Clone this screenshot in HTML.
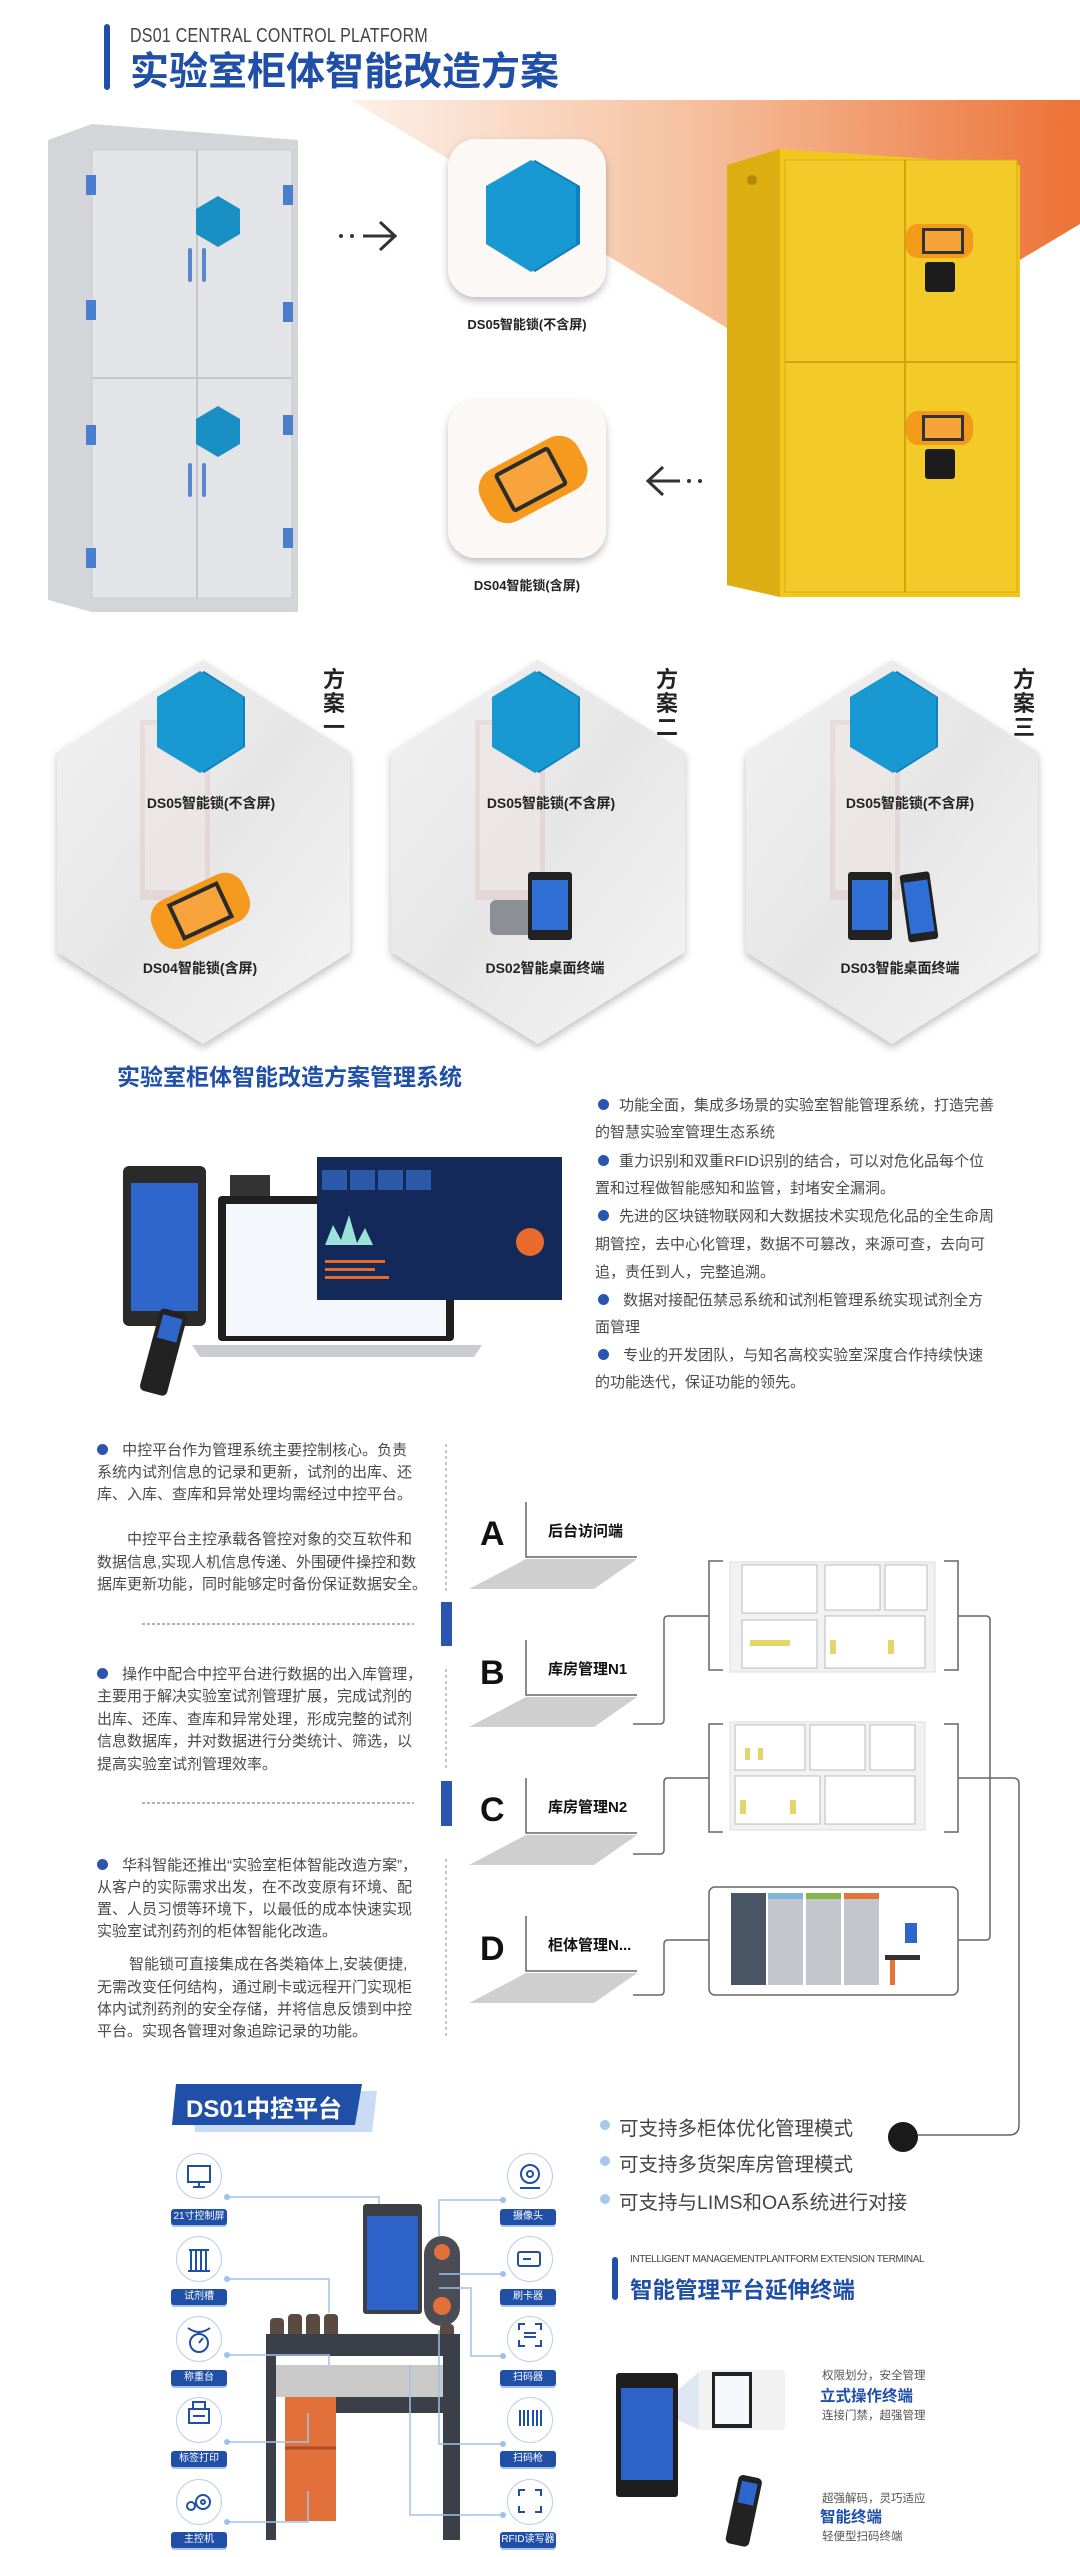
<!DOCTYPE html>
<html><head><meta charset="utf-8">
<style>
*{margin:0;padding:0;box-sizing:border-box}
body{width:1080px;height:2557px;background:#fff;position:relative;overflow:hidden;font-family:"Liberation Sans","Noto Sans CJK SC",sans-serif;color:#444}
.a{position:absolute;white-space:nowrap}
.t{position:absolute;white-space:nowrap;font-size:15px;line-height:22px;color:#4a4a4a}
.r{position:absolute;white-space:nowrap;font-size:15px;line-height:22px;color:#4a4a4a}
.dot{display:inline-block;width:11px;height:11px;border-radius:50%;background:#2a55b0;margin-right:10px;vertical-align:0}
.lbl{position:absolute;font-size:14px;font-weight:bold;color:#222;white-space:nowrap;transform:translateX(-50%)}
.pill{position:absolute;width:56px;height:16px;background:#1f4fa6;border-radius:3px;color:#fff;font-size:10px;line-height:16px;text-align:center;box-shadow:0 2px 0 #a8c4e8;white-space:nowrap}
.circ{position:absolute;width:46px;height:46px;border-radius:50%;border:1px solid #b9cfee;background:#fff}
</style></head><body>

<svg width="1080" height="2557" style="position:absolute;left:0;top:0">
<defs>
<linearGradient id="og" x1="0" y1="0" x2="1" y2="0"><stop offset="0" stop-color="#fdf0e8"/><stop offset="0.45" stop-color="#f6c3a2"/><stop offset="1" stop-color="#ec7236"/></linearGradient>
<linearGradient id="hx" x1="0" y1="0" x2="1" y2="1"><stop offset="0" stop-color="#f2f2f2"/><stop offset="0.5" stop-color="#e6e6e6"/><stop offset="1" stop-color="#f5f5f5"/></linearGradient>
<filter id="sh" x="-20%" y="-20%" width="140%" height="140%"><feDropShadow dx="0" dy="4" stdDeviation="4" flood-color="#000" flood-opacity="0.25"/></filter>
</defs>
<rect x="104" y="24" width="6" height="66" rx="3" fill="#1f4fa6"/>
<polygon points="351,100 1080,100 1080,224 816,382" fill="url(#og)"/>
<polygon points="48,140 92,124 298,140 298,612 92,612 48,600" fill="#d3d5d9"/>
<rect x="92" y="150" width="200" height="448" fill="#e3e4e7" stroke="#c9cbcf"/>
<line x1="197" y1="150" x2="197" y2="598" stroke="#c4c6ca" stroke-width="2"/>
<line x1="92" y1="378" x2="292" y2="378" stroke="#c4c6ca" stroke-width="2"/>
<g fill="#4a7fd0"><rect x="86" y="175" width="10" height="20"/><rect x="86" y="300" width="10" height="20"/><rect x="86" y="425" width="10" height="20"/><rect x="86" y="548" width="10" height="20"/><rect x="283" y="185" width="10" height="20"/><rect x="283" y="302" width="10" height="20"/><rect x="283" y="415" width="10" height="20"/><rect x="283" y="528" width="10" height="20"/></g>
<polygon points="218,196 240,209 240,234 218,247 196,234 196,209" fill="#1a8fc4"/>
<polygon points="218,406 240,419 240,444 218,457 196,444 196,419" fill="#1a8fc4"/>
<g fill="none" stroke="#5a86d0" stroke-width="4" stroke-linecap="round"><path d="M190,250 v30"/><path d="M204,250 v30"/><path d="M190,465 v30"/><path d="M204,465 v30"/></g>
<g fill="#333"><circle cx="341" cy="236" r="2"/><circle cx="352" cy="236" r="2"/></g>
<path d="M363,236 h32 M380,222 l15,14 l-15,14" stroke="#333" stroke-width="3" fill="none"/>
<g fill="#333"><circle cx="700" cy="481" r="2"/><circle cx="689" cy="481" r="2"/></g>
<path d="M680,481 h-32 M663,467 l-15,14 l15,14" stroke="#333" stroke-width="3" fill="none"/>
<rect x="448" y="139" width="158" height="158" rx="28" fill="#fbf8f6" filter="url(#sh)"/>
<polygon points="535,160 580,186 580,244 535,272 490,244 490,186" fill="#0f7fc0"/>
<polygon points="531,160 576,186 576,244 531,272 486,244 486,186" fill="#1899d2"/>
<rect x="448" y="400" width="158" height="158" rx="28" fill="#fbf8f6" filter="url(#sh)"/>
<g transform="rotate(-28 530 480)"><rect x="478" y="452" width="110" height="58" rx="22" fill="#f59a1e"/><rect x="500" y="458" width="62" height="44" rx="4" fill="#2c2c2c"/><rect x="504" y="462" width="54" height="36" fill="#f7a43c"/></g>
<polygon points="727,165 780,149 1020,165 1020,597 780,597 727,585" fill="#f1c71e"/>
<polygon points="727,165 780,149 780,597 727,585" fill="#dcae12"/>
<rect x="785" y="160" width="232" height="432" fill="#f3cb28" stroke="#d9ad10"/>
<line x1="905" y1="160" x2="905" y2="592" stroke="#d1a40c" stroke-width="2"/>
<line x1="785" y1="362" x2="1017" y2="362" stroke="#d1a40c" stroke-width="2"/>
<circle cx="752" cy="180" r="5" fill="#b28a0a"/>
<rect x="906" y="224" width="67" height="34" rx="12" fill="#f39a1a"/><rect x="922" y="228" width="42" height="26" fill="#333"/><rect x="925" y="231" width="36" height="20" fill="#f5a43a"/>
<rect x="925" y="262" width="30" height="30" rx="3" fill="#1c1c1c"/>
<rect x="906" y="411" width="67" height="34" rx="12" fill="#f39a1a"/><rect x="922" y="415" width="42" height="26" fill="#333"/><rect x="925" y="418" width="36" height="20" fill="#f5a43a"/>
<rect x="925" y="449" width="30" height="30" rx="3" fill="#1c1c1c"/>

<g filter="url(#sh)">
<polygon points="203,660 350,752 350,952 203,1044 57,952 57,752" fill="url(#hx)"/>
<polygon points="538,660 685,752 685,952 538,1044 391,952 391,752" fill="url(#hx)"/>
<polygon points="892,660 1038,752 1038,952 892,1044 746,952 746,752" fill="url(#hx)"/>
</g>
<g opacity="0.12"><rect x="140" y="720" width="70" height="180" fill="#d06060"/><rect x="475" y="720" width="70" height="180" fill="#d06060"/><rect x="830" y="720" width="70" height="180" fill="#d06060"/></g>
<g opacity="0.5"><rect x="145" y="725" width="60" height="165" fill="#f4f4f4"/><rect x="480" y="725" width="60" height="165" fill="#f4f4f4"/><rect x="835" y="725" width="60" height="165" fill="#f4f4f4"/></g>
<g>
<polygon points="204,671 245,697 245,747 204,773 163,747 163,697" fill="#0f7fc0"/>
<polygon points="200,671 243,697 243,747 200,773 157,747 157,697" fill="#1899d2"/>
<polygon points="539,671 580,697 580,747 539,773 498,747 498,697" fill="#0f7fc0"/>
<polygon points="535,671 578,697 578,747 535,773 492,747 492,697" fill="#1899d2"/>
<polygon points="897,671 938,697 938,747 897,773 856,747 856,697" fill="#0f7fc0"/>
<polygon points="893,671 936,697 936,747 893,773 850,747 850,697" fill="#1899d2"/>
</g>
<g transform="rotate(-25 200 910)"><rect x="150" y="885" width="100" height="52" rx="20" fill="#f59a1e"/><rect x="172" y="891" width="56" height="40" fill="#2a2a2a"/><rect x="176" y="895" width="48" height="32" fill="#f7a43c"/></g>
<rect x="490" y="900" width="45" height="35" rx="6" fill="#8c8f96"/><rect x="528" y="872" width="44" height="68" rx="3" fill="#222"/><rect x="532" y="880" width="36" height="50" fill="#2f6fd6"/>
<rect x="848" y="872" width="44" height="68" rx="3" fill="#222"/><rect x="852" y="880" width="36" height="50" fill="#2f6fd6"/>
<g transform="rotate(-8 918 907)"><rect x="904" y="873" width="30" height="68" rx="3" fill="#222"/><rect x="907" y="881" width="24" height="52" fill="#2f6fd6"/></g>

<rect x="123" y="1166" width="83" height="160" rx="6" fill="#2a2a2a"/><rect x="131" y="1183" width="67" height="128" fill="#2f66cc"/>
<rect x="230" y="1175" width="40" height="25" fill="#333"/>
<rect x="218" y="1196" width="236" height="145" rx="4" fill="#1f1f1f"/><rect x="226" y="1204" width="220" height="132" fill="#f4f7fb"/>
<path d="M192,1345 h290 l-8,12 h-274 z" fill="#c9ccd1"/>
<rect x="317" y="1157" width="245" height="143" fill="#13295a"/>
<g fill="#2a5aa8"><rect x="322" y="1170" width="25" height="20"/><rect x="350" y="1170" width="25" height="20"/><rect x="378" y="1170" width="25" height="20"/><rect x="406" y="1170" width="25" height="20"/></g>
<g fill="#e86a2c"><rect x="325" y="1260" width="60" height="3"/><rect x="325" y="1268" width="50" height="3"/><rect x="325" y="1276" width="64" height="3"/></g>
<path d="M325,1245 l8,-20 l8,15 l8,-25 l8,28 l8,-15 l8,17 z" fill="#9de2d8"/>
<circle cx="530" cy="1242" r="14" fill="#e86a2c"/>
<g transform="rotate(15 165 1350)"><rect x="150" y="1310" width="28" height="85" rx="5" fill="#222"/><rect x="154" y="1316" width="20" height="24" fill="#2f66cc"/></g>

<line x1="446" y1="1444" x2="446" y2="1591" stroke="#888" stroke-dasharray="3,3"/>
<line x1="446" y1="1669" x2="446" y2="1769" stroke="#888" stroke-dasharray="3,3"/>
<line x1="446" y1="1859" x2="446" y2="2038" stroke="#888" stroke-dasharray="3,3"/>
<line x1="142" y1="1624" x2="414" y2="1624" stroke="#666" stroke-dasharray="3,2"/>
<line x1="142" y1="1803" x2="414" y2="1803" stroke="#666" stroke-dasharray="3,2"/>
<rect x="441" y="1602" width="11" height="44" fill="#2a55b0"/>
<rect x="441" y="1781" width="11" height="45" fill="#2a55b0"/>
<g stroke="#666" stroke-width="1.5" fill="none">
<path d="M526,1502 V1557 H637"/><path d="M526,1640 V1695 H637"/><path d="M526,1778 V1833 H637"/><path d="M526,1916 V1971 H637"/>
</g>
<g fill="#cfcfcf">
<polygon points="526,1559 637,1559 594,1589 469,1589"/><polygon points="526,1697 637,1697 594,1727 469,1727"/><polygon points="526,1835 637,1835 594,1865 469,1865"/><polygon points="526,1973 637,1973 594,2003 469,2003"/>
</g>
<g stroke="#666" stroke-width="1.5" fill="none">
<path d="M633,1724 H660 Q664,1724 664,1720 V1620 Q664,1616 668,1616 H709"/>
<path d="M633,1854 H660 Q664,1854 664,1850 V1782 Q664,1778 668,1778 H709"/>
<path d="M633,1995 H660 Q664,1995 664,1991 V1944 Q664,1940 668,1940 H709"/>
<path d="M723,1561 H709 V1670 H723"/><path d="M944,1561 H958 V1670 H944"/>
<path d="M723,1724 H709 V1832 H723"/><path d="M944,1724 H958 V1832 H944"/>
<path d="M958,1616 H986 Q990,1616 990,1620 V1936 Q990,1940 986,1940 H958"/>
<path d="M958,1778 H1013 Q1019,1778 1019,1784 V2125 Q1019,2135 1009,2135 H918"/>
</g>
<rect x="709" y="1887" width="249" height="108" rx="6" fill="#fff" stroke="#666" stroke-width="1.5"/>
<circle cx="903" cy="2137" r="15" fill="#1a1a1a"/>
<rect x="730" y="1562" width="205" height="110" fill="#f2f2f2" stroke="#ddd"/>
<g fill="#fff" stroke="#bbb"><rect x="742" y="1565" width="75" height="48"/><rect x="825" y="1565" width="55" height="45"/><rect x="885" y="1565" width="42" height="45"/><rect x="742" y="1620" width="75" height="48"/><rect x="825" y="1616" width="100" height="52"/></g>
<g fill="#e6d36a"><rect x="750" y="1640" width="40" height="6"/><rect x="830" y="1640" width="6" height="14"/><rect x="888" y="1640" width="6" height="14"/></g>
<rect x="730" y="1722" width="195" height="108" fill="#f2f2f2" stroke="#ddd"/>
<g fill="#fff" stroke="#bbb"><rect x="735" y="1725" width="70" height="45"/><rect x="810" y="1725" width="55" height="45"/><rect x="870" y="1725" width="45" height="45"/><rect x="735" y="1776" width="85" height="48"/><rect x="825" y="1776" width="90" height="48"/></g>
<g fill="#e6d36a"><rect x="745" y="1748" width="5" height="12"/><rect x="758" y="1748" width="5" height="12"/><rect x="740" y="1800" width="6" height="14"/><rect x="790" y="1800" width="6" height="14"/></g>
<g><rect x="731" y="1893" width="35" height="92" fill="#4a5666"/><rect x="768" y="1893" width="35" height="92" fill="#c3c6ca"/><rect x="768" y="1893" width="35" height="6" fill="#7fb4d8"/><rect x="806" y="1893" width="35" height="92" fill="#c3c6ca"/><rect x="806" y="1893" width="35" height="6" fill="#86b34a"/><rect x="844" y="1893" width="35" height="92" fill="#c3c6ca"/><rect x="844" y="1893" width="35" height="6" fill="#e6743a"/><rect x="885" y="1955" width="35" height="5" fill="#333"/><rect x="890" y="1960" width="5" height="25" fill="#e6743a"/><rect x="905" y="1923" width="12" height="20" fill="#2f66cc"/></g>

<polygon points="191,2091 377,2091 372,2132 195,2132" fill="#c9dcf3"/>
<polygon points="176,2084 362,2084 355,2125 172,2125" fill="#1f4fa6"/>
<g fill="#a8c8ec"><circle cx="605" cy="2125" r="5"/><circle cx="605" cy="2161" r="5"/><circle cx="605" cy="2199" r="5"/></g>
<rect x="612" y="2257" width="6" height="43" rx="3" fill="#1f4fa6"/>
<rect x="363" y="2204" width="59" height="110" rx="3" fill="#3c3f46"/><rect x="367" y="2216" width="51" height="94" fill="#2d63c8"/>
<rect x="424" y="2236" width="36" height="90" rx="18" fill="#4a4d55"/><circle cx="442" cy="2252" r="8" fill="#e2703a"/><circle cx="442" cy="2306" r="9" fill="#e2703a"/>
<g fill="#5a4a40"><rect x="270" y="2318" width="14" height="28" rx="4"/><rect x="288" y="2314" width="14" height="32" rx="4"/><rect x="306" y="2314" width="14" height="32" rx="4"/><rect x="324" y="2314" width="14" height="32" rx="4"/><rect x="440" y="2324" width="14" height="26" rx="4"/></g>
<rect x="266" y="2334" width="194" height="22" fill="#3b3f47"/>
<rect x="266" y="2365" width="194" height="32" fill="#c9c9c9"/>
<rect x="266" y="2356" width="10" height="184" fill="#3b3f47"/><rect x="443" y="2356" width="17" height="184" fill="#3b3f47"/>
<rect x="285" y="2397" width="51" height="124" fill="#e2703a"/><line x1="285" y1="2448" x2="336" y2="2448" stroke="#a94c20" stroke-width="3"/>
<rect x="336" y="2397" width="107" height="16" fill="#3b3f47"/>
<g stroke="#9ec3ea" stroke-width="1.5" fill="none">
<path d="M227,2197 H379 V2204"/><path d="M227,2279 H329 V2313"/><path d="M227,2355 H329 V2365"/><path d="M227,2442 H308 V2413"/><path d="M227,2522 H308 V2491"/>
<path d="M503,2200 H439 V2236"/><path d="M503,2274 H439"/><path d="M503,2356 H471 V2288 H439"/><path d="M503,2444 H439 V2330"/><path d="M503,2515 H410 V2365"/>
</g>
<g fill="#9ec3ea"><circle cx="227" cy="2197" r="3"/><circle cx="227" cy="2279" r="3"/><circle cx="227" cy="2355" r="3"/><circle cx="227" cy="2442" r="3"/><circle cx="227" cy="2522" r="3"/><circle cx="503" cy="2200" r="3"/><circle cx="503" cy="2274" r="3"/><circle cx="503" cy="2356" r="3"/><circle cx="503" cy="2444" r="3"/><circle cx="503" cy="2515" r="3"/></g>
<rect x="616" y="2373" width="62" height="124" rx="3" fill="#1e1e1e"/><rect x="621" y="2388" width="52" height="92" fill="#2d63c8"/>
<polygon points="678,2390 699,2372 699,2430 678,2420" fill="#dfe7f5"/>
<rect x="699" y="2370" width="86" height="60" rx="3" fill="#f2f2f2"/><rect x="712" y="2372" width="40" height="56" fill="#222"/><rect x="715" y="2376" width="34" height="48" fill="#f5f7fa"/>
<g transform="rotate(12 745 2510)"><rect x="732" y="2476" width="24" height="70" rx="5" fill="#222"/><rect x="736" y="2482" width="16" height="22" fill="#2f66cc"/></g>
</svg>

<div class="a" style="left:130px;top:25px;font-size:20px;color:#444;letter-spacing:0.3px;transform:scaleX(0.8);transform-origin:left">DS01 CENTRAL CONTROL PLATFORM</div>
<div class="a" style="left:130px;top:50px;font-size:39px;font-weight:bold;color:#1f4fa6;line-height:46px">实验室柜体智能改造方案</div>
<div class="lbl" style="left:527px;top:314px;font-size:13px">DS05智能锁(不含屏)</div>
<div class="lbl" style="left:527px;top:575px;font-size:13px">DS04智能锁(含屏)</div>

<div class="a" style="left:323px;top:668px;font-size:22px;font-weight:bold;color:#222;line-height:24px;width:24px;white-space:normal">方案一</div>
<div class="a" style="left:656px;top:668px;font-size:22px;font-weight:bold;color:#222;line-height:24px;width:24px;white-space:normal">方案二</div>
<div class="a" style="left:1013px;top:668px;font-size:22px;font-weight:bold;color:#222;line-height:24px;width:24px;white-space:normal">方案三</div>
<div class="lbl" style="left:211px;top:793px">DS05智能锁(不含屏)</div>
<div class="lbl" style="left:551px;top:793px">DS05智能锁(不含屏)</div>
<div class="lbl" style="left:910px;top:793px">DS05智能锁(不含屏)</div>
<div class="lbl" style="left:200px;top:958px">DS04智能锁(含屏)</div>
<div class="lbl" style="left:545px;top:958px">DS02智能桌面终端</div>
<div class="lbl" style="left:900px;top:958px">DS03智能桌面终端</div>

<div class="a" style="left:117px;top:1058px;font-size:23px;font-weight:bold;color:#1f4fa6">实验室柜体智能改造方案管理系统</div>
<div class="r" style="left:598px;top:1095px"><span class="dot"></span>功能全面，集成多场景的实验室智能管理系统，打造完善</div>
<div class="r" style="left:595px;top:1122px">的智慧实验室管理生态系统</div>
<div class="r" style="left:598px;top:1151px"><span class="dot"></span>重力识别和双重RFID识别的结合，可以对危化品每个位</div>
<div class="r" style="left:595px;top:1178px">置和过程做智能感知和监管，封堵安全漏洞。</div>
<div class="r" style="left:598px;top:1206px"><span class="dot"></span>先进的区块链物联网和大数据技术实现危化品的全生命周</div>
<div class="r" style="left:595px;top:1234px">期管控，去中心化管理，数据不可篡改，来源可查，去向可</div>
<div class="r" style="left:595px;top:1262px">追，责任到人，完整追溯。</div>
<div class="r" style="left:598px;top:1290px"><span class="dot"></span> 数据对接配伍禁忌系统和试剂柜管理系统实现试剂全方</div>
<div class="r" style="left:595px;top:1317px">面管理</div>
<div class="r" style="left:598px;top:1345px"><span class="dot"></span> 专业的开发团队，与知名高校实验室深度合作持续快速</div>
<div class="r" style="left:595px;top:1372px">的功能迭代，保证功能的领先。</div>

<div class="t" style="left:97px;top:1440px"><span class="dot"></span> 中控平台作为管理系统主要控制核心。负责</div>
<div class="t" style="left:97px;top:1462px">系统内试剂信息的记录和更新，试剂的出库、还</div>
<div class="t" style="left:97px;top:1484px">库、入库、查库和异常处理均需经过中控平台。</div>
<div class="t" style="left:127px;top:1529px">中控平台主控承载各管控对象的交互软件和</div>
<div class="t" style="left:97px;top:1552px">数据信息,实现人机信息传递、外围硬件操控和数</div>
<div class="t" style="left:97px;top:1574px">据库更新功能，同时能够定时备份保证数据安全。</div>
<div class="t" style="left:97px;top:1664px"><span class="dot"></span> 操作中配合中控平台进行数据的出入库管理，</div>
<div class="t" style="left:97px;top:1686px">主要用于解决实验室试剂管理扩展，完成试剂的</div>
<div class="t" style="left:97px;top:1709px">出库、还库、查库和异常处理，形成完整的试剂</div>
<div class="t" style="left:97px;top:1731px">信息数据库，并对数据进行分类统计、筛选，以</div>
<div class="t" style="left:97px;top:1754px">提高实验室试剂管理效率。</div>
<div class="t" style="left:97px;top:1855px"><span class="dot"></span> 华科智能还推出“实验室柜体智能改造方案”，</div>
<div class="t" style="left:97px;top:1877px">从客户的实际需求出发，在不改变原有环境、配</div>
<div class="t" style="left:97px;top:1899px">置、人员习惯等环境下，以最低的成本快速实现</div>
<div class="t" style="left:97px;top:1921px">实验室试剂药剂的柜体智能化改造。</div>
<div class="t" style="left:129px;top:1954px">智能锁可直接集成在各类箱体上,安装便捷,</div>
<div class="t" style="left:97px;top:1977px">无需改变任何结构，通过刷卡或远程开门实现柜</div>
<div class="t" style="left:97px;top:1999px">体内试剂药剂的安全存储，并将信息反馈到中控</div>
<div class="t" style="left:97px;top:2021px">平台。实现各管理对象追踪记录的功能。</div>

<div class="a" style="left:480px;top:1515px;font-size:34px;font-weight:bold;color:#111">A</div>
<div class="a" style="left:480px;top:1654px;font-size:34px;font-weight:bold;color:#111">B</div>
<div class="a" style="left:480px;top:1791px;font-size:34px;font-weight:bold;color:#111">C</div>
<div class="a" style="left:480px;top:1930px;font-size:34px;font-weight:bold;color:#111">D</div>
<div class="a" style="left:548px;top:1520px;font-size:15px;font-weight:bold;color:#111">后台访问端</div>
<div class="a" style="left:548px;top:1658px;font-size:15px;font-weight:bold;color:#111">库房管理N1</div>
<div class="a" style="left:548px;top:1796px;font-size:15px;font-weight:bold;color:#111">库房管理N2</div>
<div class="a" style="left:548px;top:1934px;font-size:15px;font-weight:bold;color:#111">柜体管理N...</div>

<div class="a" style="left:186px;top:2089px;font-size:24px;font-weight:bold;color:#fff">DS01中控平台</div>
<div class="a" style="left:619px;top:2112px;font-size:19.5px;color:#444">可支持多柜体优化管理模式</div>
<div class="a" style="left:619px;top:2148px;font-size:19.5px;color:#444">可支持多货架库房管理模式</div>
<div class="a" style="left:619px;top:2186px;font-size:19.5px;color:#444">可支持与LIMS和OA系统进行对接</div>
<div class="a" style="left:630px;top:2254px;font-size:10px;color:#444;letter-spacing:-0.4px">INTELLIGENT MANAGEMENTPLANTFORM EXTENSION TERMINAL</div>
<div class="a" style="left:630px;top:2273px;font-size:22.5px;font-weight:bold;color:#1f4fa6">智能管理平台延伸终端</div>
<div class="a" style="left:822px;top:2367px;font-size:11.5px;color:#555">权限划分，安全管理</div>
<div class="a" style="left:820px;top:2384px;font-size:15.5px;font-weight:bold;color:#1f4fa6">立式操作终端</div>
<div class="a" style="left:822px;top:2407px;font-size:11.5px;color:#555">连接门禁，超强管理</div>
<div class="a" style="left:822px;top:2490px;font-size:11.5px;color:#555">超强解码，灵巧适应</div>
<div class="a" style="left:820px;top:2505px;font-size:15.5px;font-weight:bold;color:#1f4fa6">智能终端</div>
<div class="a" style="left:822px;top:2528px;font-size:11.5px;color:#555">轻便型扫码终端</div>

<div class="circ" style="left:176px;top:2153px"></div><div class="circ" style="left:176px;top:2236px"></div><div class="circ" style="left:176px;top:2316px"></div><div class="circ" style="left:176px;top:2397px"></div><div class="circ" style="left:176px;top:2479px"></div>
<div class="circ" style="left:507px;top:2153px"></div><div class="circ" style="left:507px;top:2236px"></div><div class="circ" style="left:507px;top:2316px"></div><div class="circ" style="left:507px;top:2397px"></div><div class="circ" style="left:507px;top:2479px"></div>
<svg width="1080" height="2557" style="position:absolute;left:0;top:0" fill="none" stroke="#1f4fa6" stroke-width="2">
<rect x="188" y="2166" width="22" height="16"/><path d="M199,2182 v4 M193,2187 h12"/>
<path d="M189,2250 h20 M191,2250 v20 M196,2250 v20 M201,2250 v20 M206,2250 v20 M188,2271 h22"/>
<circle cx="199" cy="2343" r="9"/><path d="M188,2328 q11,8 22,0 M199,2343 l4,-5"/>
<rect x="189" y="2409" width="20" height="14"/><rect x="193" y="2402" width="12" height="7"/><path d="M193,2416 h12"/>
<circle cx="203" cy="2502" r="7"/><circle cx="191" cy="2506" r="4"/><circle cx="203" cy="2502" r="2"/>
<circle cx="530" cy="2174" r="9"/><circle cx="530" cy="2174" r="3"/><path d="M520,2188 h20"/>
<rect x="518" y="2252" width="22" height="14" rx="2"/><path d="M523,2259 h8"/>
<path d="M519,2330 v-6 h6 M541,2330 v-6 h-6 M519,2340 v6 h6 M541,2340 v6 h-6 M524,2333 h12 M524,2337 h12"/>
<path d="M520,2410 v16 M524,2410 v16 M528,2410 v16 M533,2410 v16 M537,2410 v16 M541,2410 v16"/>
<path d="M519,2496 v-6 h6 M541,2496 v-6 h-6 M519,2506 v6 h6 M541,2506 v6 h-6"/>
</svg>
<div class="pill" style="left:171px;top:2209px">21寸控制屏</div>
<div class="pill" style="left:171px;top:2289px">试剂槽</div>
<div class="pill" style="left:171px;top:2370px">称重台</div>
<div class="pill" style="left:171px;top:2451px">标签打印</div>
<div class="pill" style="left:171px;top:2532px">主控机</div>
<div class="pill" style="left:500px;top:2209px">摄像头</div>
<div class="pill" style="left:500px;top:2289px">刷卡器</div>
<div class="pill" style="left:500px;top:2370px">扫码器</div>
<div class="pill" style="left:500px;top:2451px">扫码枪</div>
<div class="pill" style="left:500px;top:2532px">RFID读写器</div>
</body></html>
